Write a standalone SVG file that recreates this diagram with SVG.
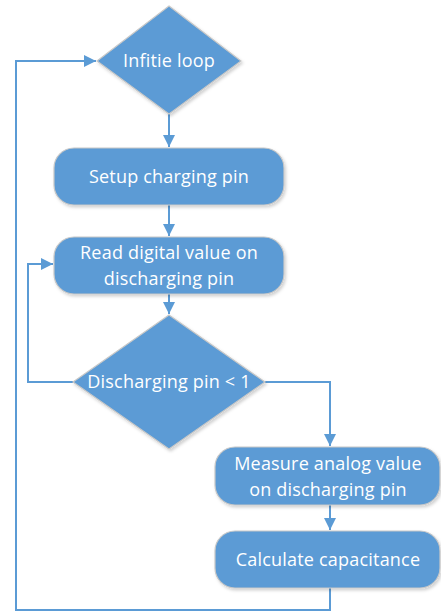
<svg xmlns="http://www.w3.org/2000/svg" width="441" height="613" viewBox="0 0 441 613">
  <defs>
    <marker id="arrow" viewBox="0 0 12 12" refX="12" refY="6" markerWidth="12" markerHeight="12" markerUnits="userSpaceOnUse" orient="auto">
      <path d="M0,0 L12,6 L0,12 Z" fill="#5B9BD5"/>
    </marker>
    <filter id="shadow" x="-10%" y="-10%" width="125%" height="130%">
      <feDropShadow dx="1.5" dy="2" stdDeviation="1.5" flood-color="#000" flood-opacity="0.18"/>
    </filter>
  </defs>
  <style>
    .shape { fill: #5B9BD5; stroke: #C8C8C8; stroke-width: 1.2; filter: url(#shadow); }
    .label { fill: #FFFFFF; font-family: "Open Sans", "Noto Sans", "Liberation Sans", sans-serif; font-size: 18px; letter-spacing: 0.2px; text-anchor: middle; }
    .edge { fill: none; stroke: #5B9BD5; stroke-width: 2; }
  </style>
  <rect width="441" height="613" fill="#FFFFFF"/>

  <g id="connectors">
    <path class="edge" d="M169,114 L169,147" marker-end="url(#arrow)"/>
    <path class="edge" d="M169,205 L169,236" marker-end="url(#arrow)"/>
    <path class="edge" d="M169,294 L169,314" marker-end="url(#arrow)"/>
    <path class="edge" d="M73,382 L28,382 L28,264 L53,264" marker-end="url(#arrow)"/>
    <path class="edge" d="M265,382 L330,382 L330,446" marker-end="url(#arrow)"/>
    <path class="edge" d="M330,505 L330,530" marker-end="url(#arrow)"/>
    <path class="edge" d="M330,588 L330,610 L16,610 L16,61 L96,61" marker-end="url(#arrow)"/>
  </g>

  <g id="infinite-loop">
    <polygon class="shape" points="169,6 241,61 169,114 97,61"/>
    <text class="label" x="169" y="67">Infitie loop</text>
  </g>

  <g id="setup-charging-pin">
    <rect class="shape" x="54" y="148" width="230" height="57" rx="20" ry="20"/>
    <text class="label" x="169" y="183">Setup charging pin</text>
  </g>

  <g id="read-digital-value">
    <rect class="shape" x="54" y="237" width="230" height="57" rx="20" ry="20"/>
    <text class="label" x="169" y="259">Read digital value on</text>
    <text class="label" x="169" y="285">discharging pin</text>
  </g>

  <g id="discharging-check">
    <polygon class="shape" points="169,315 265,382 169,449 73,382"/>
    <text class="label" x="169" y="388">Discharging pin &lt; 1</text>
  </g>

  <g id="measure-analog-value">
    <rect class="shape" x="215" y="447" width="225" height="58" rx="20" ry="20"/>
    <text class="label" x="328" y="470">Measure analog value</text>
    <text class="label" x="328" y="496">on discharging pin</text>
  </g>

  <g id="calculate-capacitance">
    <rect class="shape" x="215" y="531" width="225" height="57" rx="20" ry="20"/>
    <text class="label" x="328" y="566">Calculate capacitance</text>
  </g>
</svg>
